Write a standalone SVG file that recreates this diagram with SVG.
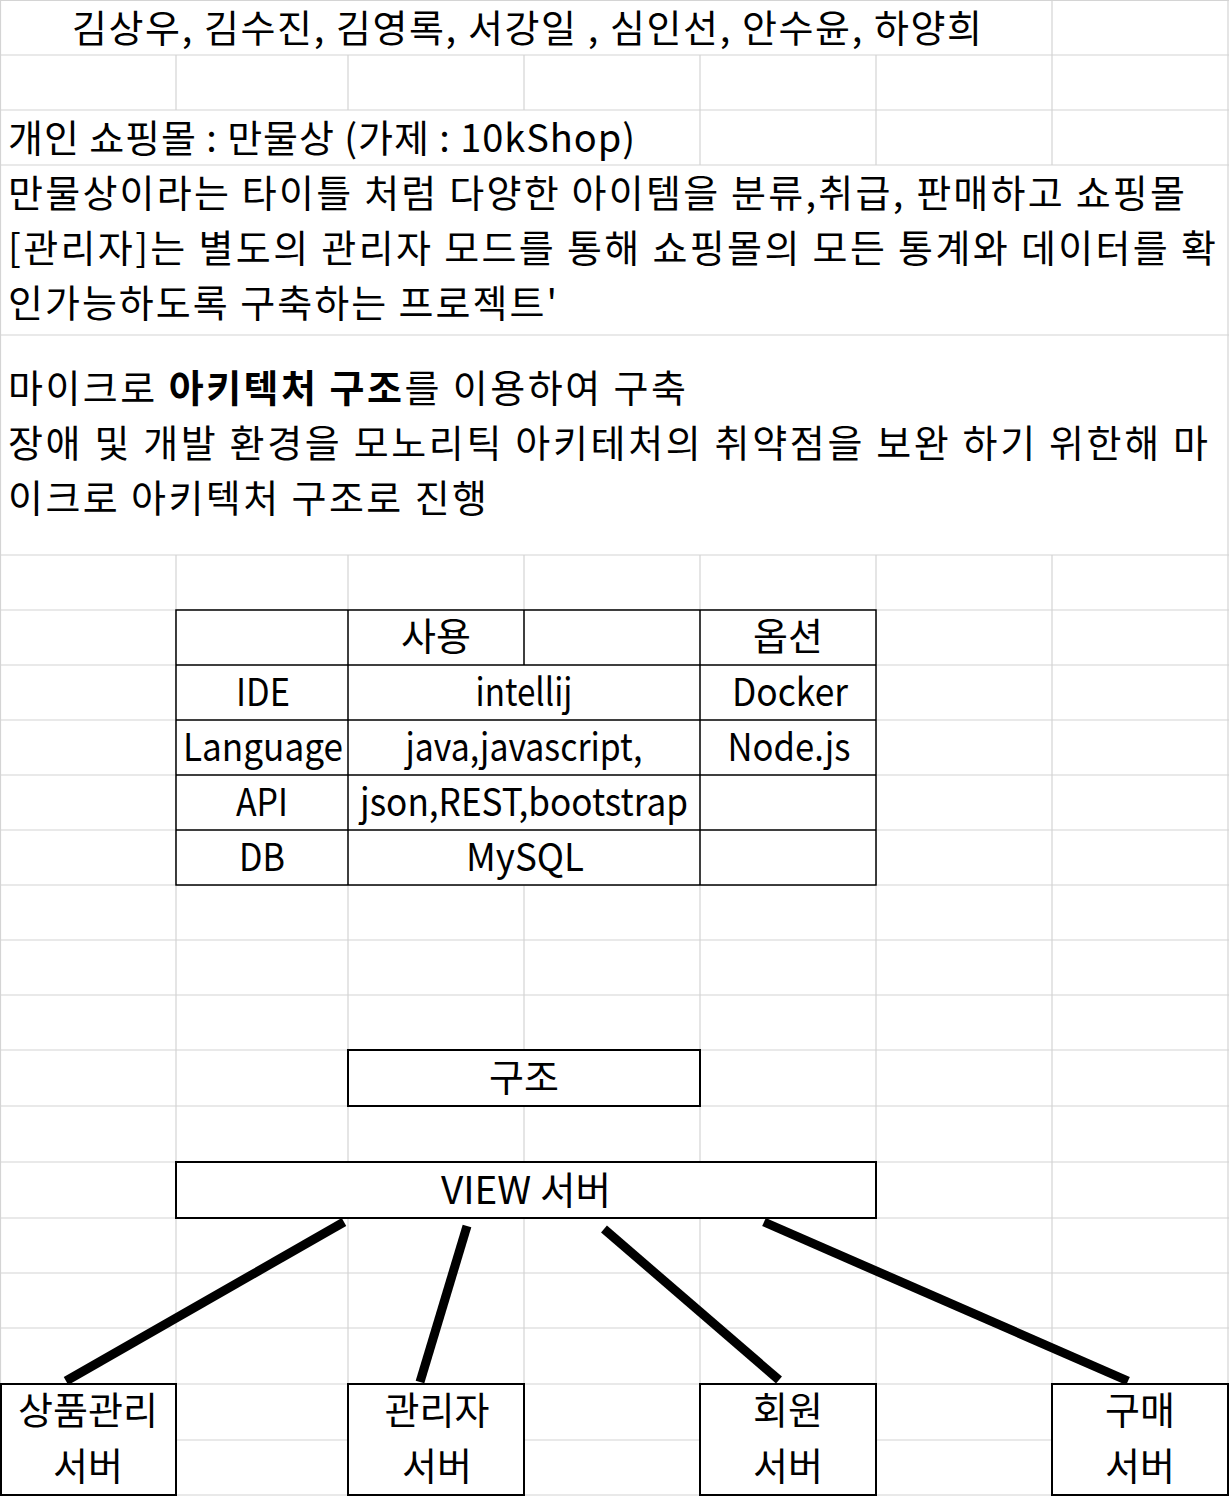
<svg xmlns="http://www.w3.org/2000/svg" width="1229" height="1496" viewBox="0 0 1229 1496">
<style>
  .g{stroke:#d4d4d4;stroke-width:1.2;fill:none}
  .t{font-family:"Noto Sans CJK KR","Noto Sans",sans-serif;font-size:38px;fill:#000}
  .c{text-anchor:middle}
  .b{font-weight:bold}
  .tb{stroke:#000;stroke-width:1.5;fill:none}
  .box{stroke:#000;stroke-width:2;fill:#fff}
  .conn{stroke:#000;stroke-width:9;stroke-linecap:butt;fill:none}
</style>
<rect width="1229" height="1496" fill="#fff"/>
<g id="grid">
  <path class="g" d="M0,0.5H1229 M0,55H1229 M0,110H1229 M0,165H1229 M0,335H1229 M0,555H1229 M0,610H1229 M0,665H1229 M0,720H1229 M0,775H1229 M0,830H1229 M0,885H1229 M0,940H1229 M0,995H1229 M0,1050H1229 M0,1106H1229 M0,1162H1229 M0,1218H1229 M0,1273H1229 M0,1328H1229 M0,1384H1229 M0,1440H1229 M0,1495H1229"/>
  <path class="g" d="M0.5,0V1496 M1228,0V1496 M1052,0V165 M1052,555V1496 M176,55V110 M348,55V110 M524,55V110 M700,55V165 M876,55V165 M176,555V1496 M348,555V1496 M524,555V1496 M700,555V1496 M876,555V1496"/>
</g>
<g id="header-text">
  <text class="t c" x="527" y="42" textLength="910" lengthAdjust="spacing">김상우, 김수진, 김영록, 서강일 , 심인선, 안수윤, 하양희</text>
  <text class="t" x="8" y="152" textLength="627" lengthAdjust="spacing">개인 쇼핑몰 : 만물상 (가제 : 10kShop)</text>
  <text class="t" x="8" y="207" textLength="1177" lengthAdjust="spacing">만물상이라는 타이틀 처럼 다양한 아이템을 분류,취급, 판매하고 쇼핑몰</text>
  <text class="t" x="8" y="262" textLength="1208" lengthAdjust="spacing">[관리자]는 별도의 관리자 모드를 통해 쇼핑몰의 모든 통계와 데이터를 확</text>
  <text class="t" x="8" y="317" textLength="549" lengthAdjust="spacing">인가능하도록 구축하는 프로젝트'</text>
  <text class="t" x="8" y="402" textLength="678" lengthAdjust="spacing">마이크로 <tspan class="b">아키텍처 구조</tspan>를 이용하여 구축</text>
  <text class="t" x="8" y="457" textLength="1200" lengthAdjust="spacing">장애 및 개발 환경을 모노리틱 아키테처의 취약점을 보완 하기 위한해 마</text>
  <text class="t" x="8" y="512" textLength="479" lengthAdjust="spacing">이크로 아키텍처 구조로 진행</text>
</g>
<g id="tech-table">
  <rect x="176" y="610" width="700" height="275" fill="#fff"/>
  <path class="tb" d="M176,610H876V885H176Z M176,665H876 M176,720H876 M176,775H876 M176,830H876 M348,610V885 M524,610V665 M700,610V885"/>
  <text class="t c" x="436" y="650">사용</text>
  <text class="t c" x="788" y="650">옵션</text>
  <text class="t c" x="263" y="706" textLength="54" lengthAdjust="spacingAndGlyphs">IDE</text>
  <text class="t c" x="524" y="706" textLength="97" lengthAdjust="spacingAndGlyphs">intellij</text>
  <text class="t c" x="790" y="706" textLength="116" lengthAdjust="spacingAndGlyphs">Docker</text>
  <text class="t c" x="263" y="761" textLength="160" lengthAdjust="spacingAndGlyphs">Language</text>
  <text class="t c" x="524" y="761" textLength="237" lengthAdjust="spacingAndGlyphs">java,javascript,</text>
  <text class="t c" x="789" y="761" textLength="123" lengthAdjust="spacingAndGlyphs">Node.js</text>
  <text class="t c" x="262" y="816" textLength="52" lengthAdjust="spacingAndGlyphs">API</text>
  <text class="t c" x="524" y="816" textLength="328" lengthAdjust="spacingAndGlyphs">json,REST,bootstrap</text>
  <text class="t c" x="262" y="871" textLength="46" lengthAdjust="spacingAndGlyphs">DB</text>
  <text class="t c" x="525" y="871" textLength="118" lengthAdjust="spacingAndGlyphs">MySQL</text>
</g>
<g id="connectors">
  <line class="conn" x1="344" y1="1222" x2="66" y2="1381"/>
  <line class="conn" x1="467" y1="1226" x2="420" y2="1382"/>
  <line class="conn" x1="604" y1="1229" x2="779" y2="1380"/>
  <line class="conn" x1="764" y1="1222" x2="1128" y2="1381"/>
</g>
<g id="node-structure">
  <rect class="box" x="348" y="1050" width="352" height="56"/>
  <text class="t c" x="524" y="1091">구조</text>
</g>
<g id="node-view">
  <rect class="box" x="176" y="1162" width="700" height="56"/>
  <text class="t c" x="526" y="1204" textLength="170" lengthAdjust="spacingAndGlyphs">VIEW 서버</text>
</g>
<g id="node-product">
  <rect class="box" x="1" y="1384" width="175" height="111"/>
  <text class="t c" x="88" y="1424">상품관리</text>
  <text class="t c" x="88" y="1480">서버</text>
</g>
<g id="node-admin">
  <rect class="box" x="348" y="1384" width="176" height="111"/>
  <text class="t c" x="437" y="1424">관리자</text>
  <text class="t c" x="437" y="1480">서버</text>
</g>
<g id="node-member">
  <rect class="box" x="700" y="1384" width="176" height="111"/>
  <text class="t c" x="788" y="1424">회원</text>
  <text class="t c" x="788" y="1480">서버</text>
</g>
<g id="node-purchase">
  <rect class="box" x="1052" y="1384" width="176" height="111"/>
  <text class="t c" x="1140" y="1424">구매</text>
  <text class="t c" x="1140" y="1480">서버</text>
</g>
</svg>
